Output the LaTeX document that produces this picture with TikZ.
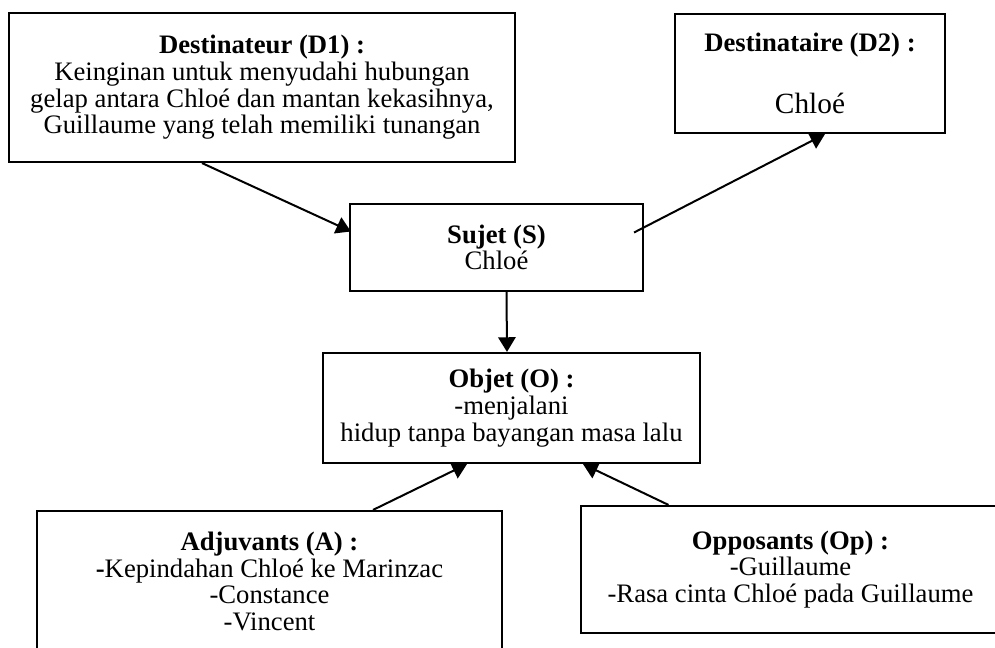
\documentclass[tikz,border=0pt]{standalone}
\usepackage{fontspec}
\setmainfont{Liberation Serif}
\usetikzlibrary{positioning,calc,arrows.meta}

\begin{document}
\begin{tikzpicture}[x=0.75pt, y=-0.75pt,
  box/.style={draw, line width=1.6pt, align=center, inner sep=0pt, font=\fontsize{20}{20}\selectfont},
  arr/.style={-{Triangle[length=11pt,width=13pt]}, line width=1.5pt}]
\useasboundingbox (0,0) rectangle (995,648);
\clip (0,0) rectangle (995,648);
% top row
\node[box, minimum width=379.5pt, minimum height=111.75pt] (dest) at (262,87.5)
  {\textbf{Destinateur (D1) :}\\Keinginan untuk menyudahi hubungan\\gelap antara Chloé dan mantan kekasihnya,\\Guillaume yang telah memiliki tunangan};
\node[box, minimum width=202.5pt, minimum height=89.25pt] (desti) at (810,73.5)
  {\textbf{Destinataire (D2) :}\\[26pt]{\fontsize{22}{20}\selectfont Chloé}};

% subject and object
\node[box, minimum width=219.75pt, minimum height=65.25pt] (suj) at (496.5,247.5)
  {\textbf{Sujet (S)}\\Chloé};
\node[box, minimum width=282.75pt, minimum height=82.5pt] (obj) at (511.5,408)
  {\textbf{Objet (O) :}\\-menjalani\\hidup tanpa bayangan masa lalu};

% helpers and opponents
\node[box, minimum width=348.75pt, minimum height=105.75pt] (adj) at (269.5,581.5)
  {\textbf{Adjuvants (A) :}\\\textbf{-}Kepindahan Chloé ke Marinzac\\-Constance\\-Vincent};
\node[box, minimum width=314.25pt, minimum height=95.25pt] (opp) at (790.5,569.5)
  {\textbf{Opposants (Op) :}\\-Guillaume\\-Rasa cinta Chloé pada Guillaume};

% arrows
\draw[arr] ($(dest.south)+(-60,0)$) -- ($(suj.west)+(2,-16)$);
\draw[arr] ($(suj.east)+(-10,-15)$) -- ($(desti.south)+(15,0)$);
\draw[arr] ($(suj.south)+(10,0)$) -- ($(obj.north)+(-4.5,0)$);
\draw[arr] ($(adj.north)+(103.5,0)$) -- ($(obj.south)+(-44.5,0)$);
\draw[arr] ($(opp.north)+(-122,0)$) -- ($(obj.south)+(71.5,0)$);
\end{tikzpicture}
\end{document}
